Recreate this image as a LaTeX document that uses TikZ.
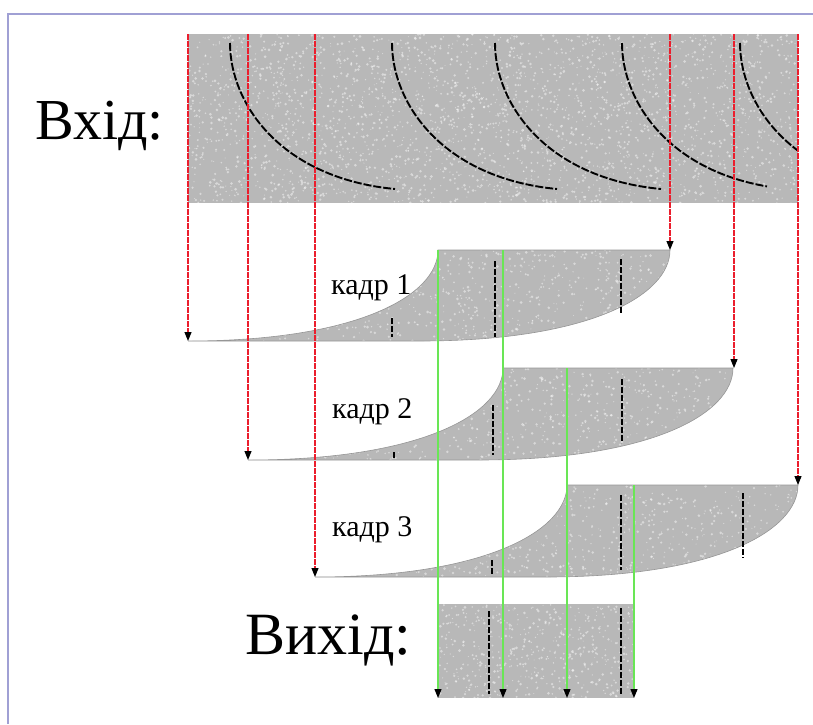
\documentclass[tikz,border=0pt]{standalone}
\usepackage{fontspec}
\setmainfont{Liberation Serif}
\usetikzlibrary{arrows.meta}
\definecolor{grain}{RGB}{184,184,184}
\definecolor{grainedge}{RGB}{150,150,150}
\definecolor{redline}{RGB}{235,30,45}
\definecolor{greenline}{RGB}{105,230,85}
\definecolor{framecol}{RGB}{160,160,212}
\newcommand\grainy[5]{%
  \foreach \k in {1,...,#5}{%
    \pgfmathsetmacro\gx{#1+rnd*(#3-#1)}%
    \pgfmathsetmacro\gy{#2+rnd*(#4-#2)}%
    \pgfmathsetmacro\gr{0.5+rnd*1.0}%
    \fill[white,opacity=0.45] (\gx,\gy) circle (\gr pt);
  }%
}
\begin{document}
\begin{tikzpicture}[x=1pt,y=-1pt,
  grainfill/.style={fill=grain},
  grainline/.style={draw=grainedge, line width=0.6pt},
  wave/.style={draw=black, line width=1.9pt, dash pattern=on 8pt off 2pt},
  tick/.style={draw=black, line width=2pt, dash pattern=on 6pt off 2pt},
  redarrow/.style={draw=redline, line width=1.1pt, dash pattern=on 6pt off 1pt, -{Triangle[length=9pt,width=7pt,color=black]}},
  greenarrow/.style={draw=greenline, line width=1.2pt, -{Triangle[length=9pt,width=7pt,color=black]}},
  big/.style={font=\fontsize{58}{62}\selectfont, inner sep=0pt, anchor=base west},
  small/.style={font=\fontsize{30}{34}\selectfont, inner sep=0pt, anchor=base west}]
\useasboundingbox (0,0) rectangle (813,724);
\pgfmathsetseed{7}
\draw[framecol, line width=2.5pt] (8,724) -- (8,14) -- (813,14);

% input strip
\fill[grainfill] (188,34) rectangle (798,203);
\begin{scope}
\clip (188,34) rectangle (798,203);
\grainy{188}{34}{798}{203}{2800}
\draw[wave] (230,43) .. controls (230,103) and (280,178) .. (395,189);
\draw[wave] (392,43) .. controls (392,103) and (442,178) .. (557,189);
\draw[wave] (495,43) .. controls (495,103) and (545,178) .. (661,189);
\draw[wave] (622,43) .. controls (622,99.4) and (666.2,169.1) .. (767,186.4);
\draw[wave] (740,43) .. controls (740,103) and (790,178) .. (905,189);
\end{scope}

% frames
\def\kadrA{(188,341) -- (420,341) .. controls (590,341) and (670,295) .. (670,250) -- (438,250) .. controls (438,295) and (358,341) .. (188,341) -- cycle}
\def\kadrB{(248,460) -- (478,460) .. controls (653,460) and (733,413) .. (733,368) -- (503,368) .. controls (503,413) and (423,460) .. (248,460) -- cycle}
\def\kadrC{(315,577) -- (546,577) .. controls (718,577) and (798,530) .. (798,485) -- (567,485) .. controls (567,530) and (487,577) .. (315,577) -- cycle}
\fill[grainfill] \kadrA;
\begin{scope}\clip \kadrA; \grainy{188}{250}{670}{341}{850}\end{scope}
\draw[grainline] \kadrA;
\fill[grainfill] \kadrB;
\begin{scope}\clip \kadrB; \grainy{248}{368}{733}{460}{850}\end{scope}
\draw[grainline] \kadrB;
\fill[grainfill] \kadrC;
\begin{scope}\clip \kadrC; \grainy{315}{485}{798}{577}{850}\end{scope}
\draw[grainline] \kadrC;

\draw[tick] (392,318) -- (392,337);
\draw[tick] (495,261) -- (495,337);
\draw[tick] (621,259) -- (621,314);
\draw[tick] (394,452) -- (394,460);
\draw[tick] (493,405) -- (493,455);
\draw[tick] (622,379) -- (622,443);
\draw[tick] (492,560) -- (492,574);
\draw[tick] (621,495) -- (621,570);
\draw[tick] (743,493) -- (743,558);

% output
\fill[grainfill] (438,604) rectangle (634,698);
\begin{scope}\clip (438,604) rectangle (634,698); \grainy{438}{604}{634}{698}{520}\end{scope}
\draw[tick] (489,611) -- (489,694);
\draw[tick] (621,608) -- (621,694);

% labels
\node[big] (vin) at (35,139) {Вхід:};
\node[big, font=\fontsize{60}{64}\selectfont] (vout) at (245,654) {Вихід:};
\node[small] (k1) at (331,294) {кадр 1};
\node[small] (k2) at (332,418) {кадр 2};
\node[small] (k3) at (332,536) {кадр 3};

% red connectors
\coordinate (r1s) at (188,34); \coordinate (r1e) at (188,341);
\coordinate (r2s) at (248,34); \coordinate (r2e) at (248,460);
\coordinate (r3s) at (315,34); \coordinate (r3e) at (315,577);
\coordinate (r4s) at (670,34); \coordinate (r4e) at (670,250);
\coordinate (r5s) at (734,34); \coordinate (r5e) at (734,368);
\coordinate (r6s) at (798,34); \coordinate (r6e) at (798,485);
\foreach \i in {1,...,6} {\draw[redarrow] (r\i s) -- (r\i e);}

% green connectors
\coordinate (g1s) at (438,250); \coordinate (g1e) at (438,698);
\coordinate (g2s) at (503,250); \coordinate (g2e) at (503,698);
\coordinate (g3s) at (567,368); \coordinate (g3e) at (567,698);
\coordinate (g4s) at (634,485); \coordinate (g4e) at (634,698);
\foreach \i in {1,...,4} {\draw[greenarrow] (g\i s) -- (g\i e);}
\end{tikzpicture}
\end{document}
